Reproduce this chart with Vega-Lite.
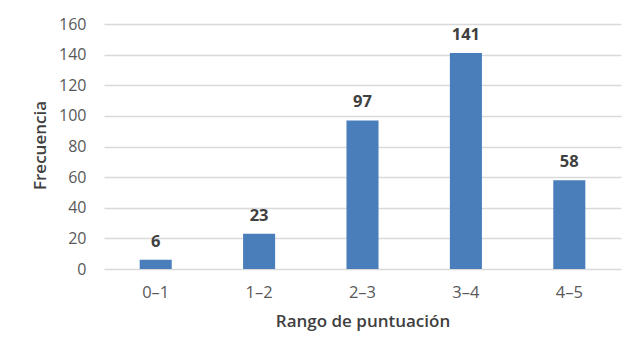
{
  "$schema": "https://vega.github.io/schema/vega-lite/v6.json",
  "autosize": {"type": "none"},
  "padding": {"left": 104, "top": 24, "right": 23, "bottom": 94},
  "width": 517,
  "height": 245,
  "background": "white",
  "config": {
    "view": {"stroke": null},
    "font": "Open Sans",
    "axis": {"labelFont": "Open Sans", "titleFont": "Open Sans"}
  },
  "data": {
    "values": [
      {"rango": "0–1", "frecuencia": 6},
      {"rango": "1–2", "frecuencia": 23},
      {"rango": "2–3", "frecuencia": 97},
      {"rango": "3–4", "frecuencia": 141},
      {"rango": "4–5", "frecuencia": 58}
    ]
  },
  "encoding": {
    "x": {
      "field": "rango", "type": "nominal", "sort": null,
      "scale": {"paddingInner": 0.69, "paddingOuter": 0.345},
      "axis": {
        "title": "Rango de puntuación", "labelAngle": 0, "domain": false, "ticks": false,
        "labelPadding": 15, "labelFontSize": 16.5, "labelColor": "#595959",
        "titleFontSize": 17, "titleFontWeight": 600, "titleColor": "#404040",
        "titleY": 44, "titleBaseline": "top"
      }
    },
    "y": {
      "field": "frecuencia", "type": "quantitative",
      "scale": {"domain": [0, 160], "nice": false},
      "axis": {
        "title": "Frecuencia", "values": [0, 20, 40, 60, 80, 100, 120, 140, 160],
        "domain": false, "ticks": false, "labelPadding": 18,
        "labelFontSize": 16, "labelColor": "#595959",
        "gridColor": "#d9d9d9", "gridWidth": 1.3,
        "titleFontSize": 17, "titleFontWeight": 600, "titleColor": "#404040",
        "titleX": -64, "titleY": 121, "titleAngle": -90, "titleBaseline": "middle", "titleAlign": "center"
      }
    }
  },
  "layer": [
    {"mark": {"type": "bar", "color": "#4a7ebb"}},
    {
      "mark": {"type": "text", "baseline": "bottom", "dy": -10, "fontSize": 16.5, "fontWeight": "bold", "color": "#404040"},
      "encoding": {"text": {"field": "frecuencia", "type": "quantitative"}}
    }
  ]
}
